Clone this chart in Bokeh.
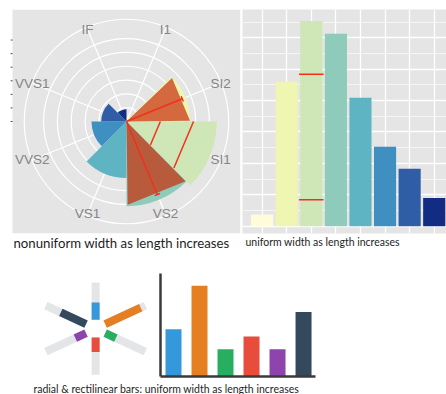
import numpy as np
from bokeh.plotting import figure
from bokeh.models import Range1d, Title, FixedTicker, LinearAxis, Grid
from bokeh.layouts import column, row
from bokeh.embed import file_html
from bokeh.resources import INLINE
from bokeh.core.properties import value

# ---------------- data ----------------
clarity = ["I1", "SI2", "SI1", "VS2", "VS1", "VVS2", "VVS1", "IF"]
counts = [741, 9194, 13065, 12258, 8171, 5066, 3655, 1790]
clarity_colors = ["#fffdd9", "#eff6b2", "#cfe6b6", "#8ecbba",
                  "#5fb4c4", "#3f8fc0", "#2f5ea7", "#122c83"]
r_breaks = [0, 2000, 4000, 6000, 8000, 10000, 12000]
y_major = [0, 2000, 4000, 6000, 8000, 10000, 12000]
y_minor = [1000, 3000, 5000, 7000, 9000, 11000, 13000]
overlay_cats = ["SI2", "VS2"]
overlay_colors = ["#d4683e", "#b85b3d"]
polar_width_marks = [4900, 9700]     # red width markers inside SI1 wedge
bar_width_marks = [1690, 9680]       # red width markers inside SI1 bar
mark_cat = "SI1"

radial_values = [52, 100, 30, 44, 30, 71]
radial_colors = ["#3498db", "#e67e22", "#27ae60", "#e74c3c", "#8e44ad", "#34495e"]
radial_track = 113      # full length of the grey tracks
radial_hole = 27        # empty centre

cap1 = "nonuniform width as length increases"
cap2 = "uniform width as length increases"
cap3 = "radial & rectilinear bars: uniform width as length increases"

RED = "#f2301c"
PANEL = "#e5e5e5"
CAP_FONT = "Lato"

# ---------------- panel 1 : polar bars ----------------
half = 16500                 # half of the panel extent, in counts
panel_px = 228
cpp = 2 * half / panel_px    # counts per pixel
gutter = 3                   # px left of panel for r-axis ticks
p1 = figure(width=242, height=250,
            x_range=Range1d(-half - gutter * cpp, half), y_range=Range1d(-half, half),
            output_backend="svg", toolbar_location=None,
            x_axis_location=None, y_axis_location=None,
            min_border_left=12 - gutter, min_border_right=2, min_border_top=7, min_border_bottom=15,
            background_fill_color="white", border_fill_color="white", outline_line_color=None)
p1.grid.visible = False
p1.quad(left=[-half], right=[half], bottom=[-half], top=[half], fill_color=PANEL, line_color=None)
rb = np.array(r_breaks)
p1.segment(x0=-half - 1.8 * cpp, x1=-half, y0=rb, y1=rb, line_color="#444444", line_width=1)

n = len(clarity)
step = 360.0 / n
outer = 14800
rings = [b for b in r_breaks if b > 0] + [outer]
p1.circle(x=[0] * len(rings), y=[0] * len(rings), radius=rings,
          fill_color=None, line_color="white", line_width=1.2)
mid = np.deg2rad(step * (np.arange(n) + 0.5))
p1.segment(x0=0, y0=0, x1=outer * np.sin(mid), y1=outer * np.cos(mid),
           line_color="white", line_width=1.2)

start = np.deg2rad(90 - step * (np.arange(n) + 1))
end = np.deg2rad(90 - step * np.arange(n))
p1.wedge(x=0, y=0, radius=counts, start_angle=start, end_angle=end,
         direction="anticlock", fill_color=clarity_colors, line_color=None)

# overlay triangles
oxs, oys = [], []
for c in overlay_cats:
    i = clarity.index(c)
    r = counts[i]
    a0 = np.deg2rad(step * i + 0.8)
    a1 = np.deg2rad(step * (i + 1) - 0.8)
    oxs.append([0, r * np.sin(a0), r * np.sin(a1)])
    oys.append([0, r * np.cos(a0), r * np.cos(a1)])
p1.patches(oxs, oys, fill_color=overlay_colors, line_color=None)

# red radial length lines with caps
for c in overlay_cats:
    i = clarity.index(c)
    a = np.deg2rad(step * (i + 0.5))
    L = counts[i] * 0.95
    ex, ey = L * np.sin(a), L * np.cos(a)
    p1.segment(x0=0, y0=0, x1=ex, y1=ey, line_color=RED, line_width=1.5)
    cl = 420
    p1.segment(x0=ex - cl * np.cos(a), y0=ey + cl * np.sin(a),
               x1=ex + cl * np.cos(a), y1=ey - cl * np.sin(a), line_color=RED, line_width=1.5)

# red width chords in SI1 wedge
j = clarity.index(mark_cat)
b0 = np.deg2rad(step * j)
b1 = np.deg2rad(step * (j + 1))
wm = np.array(polar_width_marks)
p1.segment(x0=wm * np.sin(b0), y0=wm * np.cos(b0), x1=wm * np.sin(b1), y1=wm * np.cos(b1),
           line_color=RED, line_width=1.5)

lab_r = 14750
p1.text(x=lab_r * np.sin(mid), y=lab_r * np.cos(mid), text=clarity,
        text_align="center", text_baseline="middle",
        text_font=value("Liberation Sans"), text_font_size="13.5px", text_color="#868686")

t1 = Title(text=cap1, align="left", offset=1 + gutter, standoff=-1, text_font=CAP_FONT,
           text_font_size="13.2px", text_font_style="normal", text_color="#1e1e1e")
p1.add_layout(t1, "below")

# ---------------- panel 2 : bars ----------------
xs = np.arange(1, n + 1)
p2 = figure(width=204, height=250, x_range=Range1d(0.2, 8.5), y_range=Range1d(-463, 13796),
            output_backend="svg", toolbar_location=None,
            x_axis_location=None, y_axis_location=None,
            min_border_left=0, min_border_right=0, min_border_top=9, min_border_bottom=16,
            background_fill_color=PANEL, border_fill_color="white", outline_line_color=None)
p2.grid.visible = False
p2.add_layout(Grid(dimension=0, ticker=FixedTicker(ticks=list(xs)),
                   grid_line_color="white", grid_line_width=1.3))
p2.add_layout(Grid(dimension=1, ticker=FixedTicker(ticks=y_major, minor_ticks=y_minor),
                   grid_line_color="white", grid_line_width=1.3,
                   minor_grid_line_color="white", minor_grid_line_width=0.6))
p2.vbar(x=xs, top=counts, bottom=0, width=0.9, fill_color=clarity_colors, line_color=None)
xm = xs[clarity.index(mark_cat)]
bm = np.array(bar_width_marks)
p2.segment(x0=xm - 0.5, x1=xm + 0.5, y0=bm, y1=bm, line_color=RED, line_width=1.5)
t2 = Title(text=cap2, align="left", offset=3, standoff=1, text_font=CAP_FONT,
           text_font_size="10.5px", text_font_style="normal", text_color="#1e1e1e")
p2.add_layout(t2, "below")

# ---------------- panel 3 : radial bars ----------------
m = len(radial_values)
p3 = figure(width=155, height=128, x_range=Range1d(-232, 146), y_range=Range1d(-145, 167),
            output_backend="svg", toolbar_location=None,
            x_axis_location=None, y_axis_location=None,
            min_border=0, outline_line_color=None, background_fill_color="white")
p3.grid.visible = False
ang = np.deg2rad(360.0 / m * np.arange(m))
rv = np.array(radial_values)
r_end = radial_hole + radial_track
p3.segment(x0=radial_hole * np.sin(ang), y0=radial_hole * np.cos(ang),
           x1=r_end * np.sin(ang), y1=r_end * np.cos(ang),
           line_color="#e4e5e7", line_width=8, line_cap="butt")
p3.segment(x0=radial_hole * np.sin(ang), y0=radial_hole * np.cos(ang),
           x1=(radial_hole + rv) * np.sin(ang), y1=(radial_hole + rv) * np.cos(ang),
           line_color=radial_colors, line_width=8, line_cap="butt")

# ---------------- panel 4 : rectilinear bars ----------------
p4 = figure(width=291, height=128, x_range=Range1d(0.5, 6.46), y_range=Range1d(0, 113.5),
            output_backend="svg", toolbar_location=None,
            x_axis_location=None, y_axis_location=None,
            min_border_left=5, min_border_right=131, min_border_top=23, min_border_bottom=2,
            outline_line_color=None, background_fill_color="white")
p4.grid.visible = False
for loc in ["left", "below"]:
    a = LinearAxis(ticker=FixedTicker(ticks=[]), major_label_text_font_size="0px",
                   major_label_standoff=0, major_tick_out=0, major_tick_in=0,
                   minor_tick_out=0, minor_tick_in=0,
                   axis_line_color="#3a3a3a", axis_line_width=2.5)
    p4.add_layout(a, loc)
p4.vbar(x=np.arange(1, m + 1), top=radial_values, bottom=0, width=0.615,
        fill_color=radial_colors, line_color=None)

# ---------------- caption strip ----------------
p5 = figure(width=446, height=16, x_range=Range1d(0, 446), y_range=Range1d(0, 16),
            output_backend="svg", toolbar_location=None,
            x_axis_location=None, y_axis_location=None,
            min_border=0, outline_line_color=None, background_fill_color="white")
p5.grid.visible = False
p5.text(x=[33], y=[6], text=[cap3], text_align="left", text_baseline="middle",
        text_font=value(CAP_FONT), text_font_size="10.5px", text_color="#1e1e1e")

layout = column(row(p1, p2), row(p3, p4), p5)
open("out.html", "w").write(file_html(layout, INLINE))
